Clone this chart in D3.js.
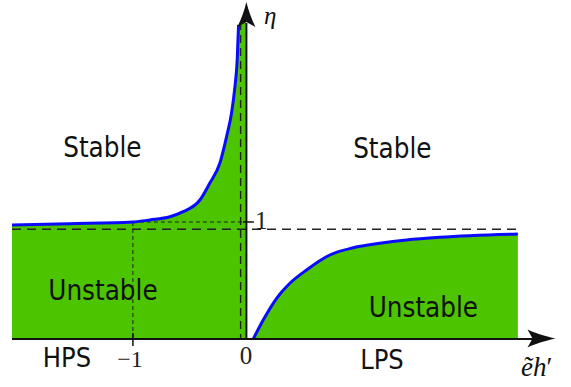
<!DOCTYPE html>
<html><head><meta charset="utf-8">
<script src="https://cdn.jsdelivr.net/npm/d3@7"></script>
<style>html,body{margin:0;padding:0;background:#fff;} svg{display:block}</style>
</head><body>
<svg id="chart" width="571" height="387"></svg>
<script>
// HPS branch (ẽh' < 0): stability boundary η(ẽh')
const hpsX   = [-2.07, -1.56, -1.0, -0.85, -0.673, -0.555, -0.407, -0.319, -0.23, -0.171, -0.127, -0.097, -0.077, -0.065];
const hpsEta = [0.974, 0.985, 1.0, 1.017, 1.045, 1.088, 1.188, 1.333, 1.504, 1.729, 1.932, 2.156, 2.385, 2.684];
// LPS branch (ẽh' > 0)
const lpsX   = [0.065, 0.153, 0.272, 0.389, 0.537, 0.743, 0.95, 1.186, 1.422, 1.717, 2.407];
const lpsEta = [0, 0.162, 0.348, 0.476, 0.59, 0.718, 0.78, 0.818, 0.846, 0.869, 0.897];
const etaAsymptote = 0.938;
const poleX = -0.047;
const refPoint = [-1, 1];
const xTicks = [-1, 0];
const xTickLabels = ["−1", "0"];
const yTicks = [1];
const yTickLabels = ["1"];
const regionLabels = ["Stable", "Stable", "Unstable", "Unstable"];
const phaseLabels = ["HPS", "LPS"];

const GREEN = "#4cc400", BLUE = "#0a0aff";
const svg = d3.select("#chart");
const x = d3.scaleLinear().domain([-2.07, 2.74]).range([12, 555.5]);
const y = d3.scaleLinear().domain([0, 2.88]).range([339, 2]);
const xMin = hpsX[0], xMax = lpsX[lpsX.length - 1];
const topEta = y.invert(22);

const curve = d3.line().x(d => x(d[0])).y(d => y(d[1])).curve(d3.curveMonotoneX);
const poly = d3.line().x(d => x(d[0])).y(d => y(d[1]));
const hps = hpsX.map((v, i) => [v, hpsEta[i]]);
const lps = lpsX.map((v, i) => [v, lpsEta[i]]);

// unstable regions: under each boundary curve
svg.append("path")
  .attr("d", curve(hps) + poly([[hps[hps.length - 1][0], hps[hps.length - 1][1]], [0, topEta], [0, 0], [xMin, 0]]).replace(/^M/, "L") + "Z")
  .attr("fill", GREEN);
svg.append("path")
  .attr("d", curve(lps) + poly([[xMax, lps[lps.length - 1][1]], [xMax, 0]]).replace(/^M/, "L") + "Z")
  .attr("fill", GREEN);

// asymptotes
svg.append("line")
  .attr("x1", x(xMin)).attr("x2", x(xMax) + 1)
  .attr("y1", y(etaAsymptote)).attr("y2", y(etaAsymptote))
  .attr("stroke", "#222").attr("stroke-width", 1.4).attr("stroke-dasharray", "9,6");
svg.append("line")
  .attr("x1", x(poleX)).attr("x2", x(poleX))
  .attr("y1", y(topEta)).attr("y2", y(0))
  .attr("stroke", "#222").attr("stroke-width", 1.4).attr("stroke-dasharray", "8,5");

// guide lines to the reference point
const guide = svg.append("g").attr("stroke", "#222").attr("stroke-width", 1).attr("stroke-dasharray", "4,3");
guide.append("line").attr("x1", x(refPoint[0])).attr("x2", x(0))
  .attr("y1", y(refPoint[1])).attr("y2", y(refPoint[1]));
guide.append("line").attr("x1", x(refPoint[0])).attr("x2", x(refPoint[0]))
  .attr("y1", y(refPoint[1])).attr("y2", y(0));

// boundary curves
[hps, lps].forEach(pts => svg.append("path")
  .attr("d", curve(pts)).attr("fill", "none")
  .attr("stroke", BLUE).attr("stroke-width", 3).attr("stroke-linejoin", "round"));

// axes
const axisCol = "#111";
svg.append("line").attr("x1", x(xMin)).attr("x2", x(2.6))
  .attr("y1", y(0)).attr("y2", y(0)).attr("stroke", axisCol).attr("stroke-width", 2);
svg.append("line").attr("x1", x(0) + 0.5).attr("x2", x(0) + 0.5)
  .attr("y1", y(0)).attr("y2", y(2.7)).attr("stroke", axisCol).attr("stroke-width", 2);

// arrow heads
const tipX = [x(2.74), y(0) - 0.5], tipY = [x(0) + 0.5, y(2.88)];
svg.append("path").attr("fill", axisCol)
  .attr("transform", `translate(${tipX[0]},${tipX[1]})`)
  .attr("d", "M0,0 C-9,-2 -20,-5 -28,-9 L-23,0 L-28,9 C-20,5 -9,2 0,0 Z");
svg.append("path").attr("fill", axisCol)
  .attr("transform", `translate(${tipY[0]},${tipY[1]})`)
  .attr("d", "M0,0 C-2,8 -5,17 -9,25 L0,20 L9,25 C5,17 2,8 0,0 Z");

// ticks
xTicks.filter(t => t !== 0).forEach(t => svg.append("line")
  .attr("x1", x(t)).attr("x2", x(t)).attr("y1", y(0) - 6).attr("y2", y(0) + 7)
  .attr("stroke", axisCol).attr("stroke-width", 1.5));
yTicks.forEach(t => svg.append("line")
  .attr("x1", x(0) - 3).attr("x2", x(0) + 8).attr("y1", y(t)).attr("y2", y(t))
  .attr("stroke", axisCol).attr("stroke-width", 1.5));

const serif = "'Liberation Serif', 'DejaVu Serif', serif";
svg.append("text").attr("x", x(-1) - 3).attr("y", 367).attr("text-anchor", "middle")
  .attr("font-family", serif).attr("font-size", 24).attr("fill", "#222").text(xTickLabels[0]);
svg.append("text").attr("x", x(0)).attr("y", 364).attr("text-anchor", "middle")
  .attr("font-family", serif).attr("font-size", 25).attr("fill", "#222").text(xTickLabels[1]);
svg.append("text").attr("x", x(0) + 9).attr("y", y(1) + 7)
  .attr("font-family", serif).attr("font-size", 25).attr("fill", "#222").text(yTickLabels[0]);

// axis titles
svg.append("text").attr("x", 264).attr("y", 24)
  .attr("font-family", serif).attr("font-style", "italic").attr("font-size", 25).attr("fill", "#111").text("η");
const xt = svg.append("text").attr("x", 521).attr("y", 376)
  .attr("font-family", serif).attr("font-style", "italic").attr("font-size", 27).attr("fill", "#111");
xt.append("tspan").text("ẽh");
xt.append("tspan").attr("font-style", "normal").text("′");

// region / phase labels
const sans = "'DejaVu Sans', sans-serif";
const labelPos = [[-1.27, 1.556], [1.296, 1.547], [-1.265, 0.333], [1.571, 0.19]];
regionLabels.forEach((s, i) => svg.append("text")
  .attr("x", x(labelPos[i][0])).attr("y", y(labelPos[i][1]))
  .attr("text-anchor", "middle").attr("font-family", sans).attr("font-stretch", "condensed")
  .attr("font-size", 27.5).attr("fill", "#111").text(s));
const phasePos = [[-1.584, -0.24], [1.204, -0.256]];
phaseLabels.forEach((s, i) => svg.append("text")
  .attr("x", x(phasePos[i][0])).attr("y", y(phasePos[i][1]))
  .attr("text-anchor", "middle").attr("font-family", sans).attr("font-stretch", "condensed")
  .attr("font-size", 27).attr("fill", "#111").text(s));
</script>
</body></html>
